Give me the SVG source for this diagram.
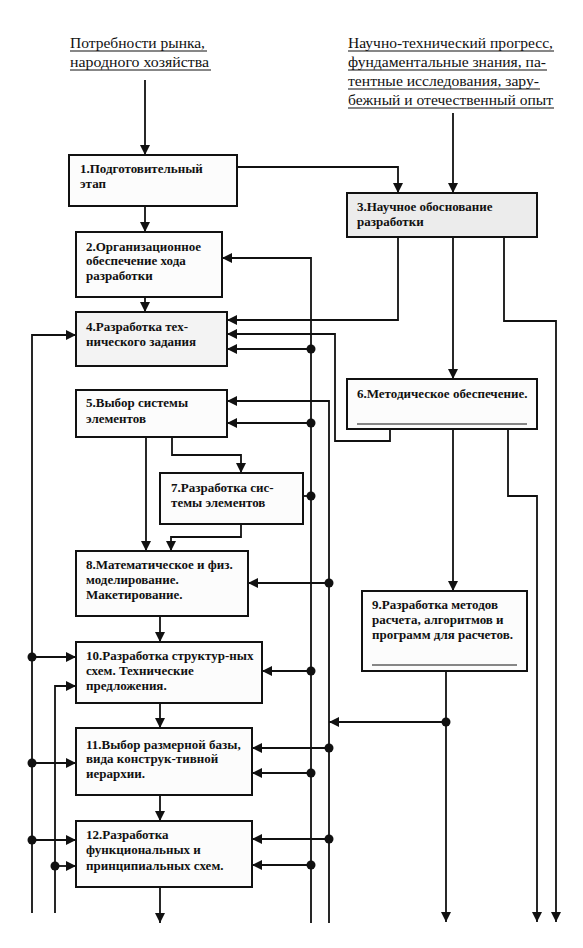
<svg xmlns="http://www.w3.org/2000/svg" width="583" height="948" viewBox="0 0 583 948">
<defs>
<style>
.bg{fill:#ffffff}
.box{fill:#fcfcfc;stroke:#111;stroke-width:2}
.box.g3{fill:#ececec}
.box.g4{fill:#f3f3f3}
.t{font-family:"Liberation Serif","DejaVu Serif",serif;font-size:13px;font-weight:bold;fill:#111}
.top{font-family:"Liberation Serif","DejaVu Serif",serif;font-size:15px;fill:#111}
.ul{stroke:#111;stroke-width:1.2}
.c{fill:none;stroke:#111;stroke-width:1.8}
.a{marker-end:url(#arr)}
.dot{fill:#111}
</style>
<marker id="arr" markerUnits="userSpaceOnUse" markerWidth="11" markerHeight="10" refX="10" refY="5" orient="auto">
<path d="M0,0 L10,5 L0,10 z" fill="#111"/>
</marker>
</defs>
<rect class="bg" x="0" y="0" width="583" height="948"/>

<g id="inputs">
<text class="top" font-family="Liberation Serif, serif" x="70" y="48" textLength="135" lengthAdjust="spacingAndGlyphs">Потребности рынка,</text>
<text class="top" font-family="Liberation Serif, serif" x="70" y="67" textLength="139" lengthAdjust="spacingAndGlyphs">народного хозяйства</text>
<line class="ul" x1="70" y1="51" x2="207" y2="51"/>
<line class="ul" x1="70" y1="70" x2="211" y2="70"/>
<text class="top" x="348" y="48" textLength="205" lengthAdjust="spacingAndGlyphs">Научно-технический прогресс,</text>
<text class="top" x="348" y="67" textLength="198" lengthAdjust="spacingAndGlyphs">фундаментальные знания, па-</text>
<text class="top" x="348" y="86" textLength="191" lengthAdjust="spacingAndGlyphs">тентные исследования, зару-</text>
<text class="top" x="348" y="105" textLength="205" lengthAdjust="spacingAndGlyphs">бежный и отечественный опыт</text>
<line class="ul" x1="348" y1="51" x2="554" y2="51"/>
<line class="ul" x1="348" y1="70" x2="547" y2="70"/>
<line class="ul" x1="348" y1="89" x2="540" y2="89"/>
<line class="ul" x1="348" y1="108" x2="554" y2="108"/>
</g>

<g id="connectors">
<path class="c a" d="M145,80 L145,155"/>
<path class="c a" d="M453,113 L453,193"/>
<path class="c a" d="M237,167 L398,167 L398,193"/>
<path class="c a" d="M145,206 L145,232"/>
<path class="c a" d="M145,297 L145,312"/>
<path class="c a" d="M398,237 L398,320 L227,320"/>
<path class="c a" d="M453,237 L453,379"/>
<path class="c a" d="M504,237 L504,321 L556,321 L556,922"/>
<path class="c a" d="M311,923 L311,258 L222,258"/>
<path class="c a" d="M390,429 L390,441 L335,441 L335,334 L227,334"/>
<path class="c a" d="M311,349 L227,349"/>
<path class="c a" d="M329,923 L329,401 L227,401"/>
<path class="c a" d="M311,423 L227,423"/>
<path class="c a" d="M146,437 L146,551"/>
<path class="c a" d="M172,437 L172,455 L241,455 L241,473"/>
<path class="c a" d="M241,524 L241,537 L171,537 L171,551"/>
<path class="c" d="M303,496 L311,496"/>
<path class="c a" d="M453,429 L453,591"/>
<path class="c a" d="M508,429 L508,496 L537,496 L537,922"/>
<path class="c a" d="M329,583 L248,583"/>
<path class="c a" d="M160,616 L160,642"/>
<path class="c a" d="M311,671 L262,671"/>
<path class="c a" d="M446,671 L446,922"/>
<path class="c a" d="M446,722 L329,722"/>
<path class="c a" d="M160,703 L160,728"/>
<path class="c a" d="M329,748 L252,748"/>
<path class="c a" d="M311,773 L252,773"/>
<path class="c a" d="M160,795 L160,821"/>
<path class="c a" d="M329,839 L252,839"/>
<path class="c a" d="M311,865 L252,865"/>
<path class="c a" d="M160,887 L160,923"/>
<path class="c a" d="M32,913 L32,335 L76,335"/>
<path class="c a" d="M32,657 L76,657"/>
<path class="c a" d="M32,763 L76,763"/>
<path class="c a" d="M32,840 L76,840"/>
<path class="c a" d="M55,913 L55,686 L76,686"/>
<path class="c a" d="M55,866 L76,866"/>
<circle class="dot" cx="311" cy="349" r="4.5"/>
<circle class="dot" cx="311" cy="423" r="4.5"/>
<circle class="dot" cx="311" cy="496" r="4.5"/>
<circle class="dot" cx="329" cy="583" r="4.5"/>
<circle class="dot" cx="311" cy="671" r="4.5"/>
<circle class="dot" cx="446" cy="722" r="4.5"/>
<circle class="dot" cx="329" cy="748" r="4.5"/>
<circle class="dot" cx="311" cy="773" r="4.5"/>
<circle class="dot" cx="329" cy="839" r="4.5"/>
<circle class="dot" cx="311" cy="865" r="4.5"/>
<circle class="dot" cx="32" cy="657" r="4.5"/>
<circle class="dot" cx="32" cy="763" r="4.5"/>
<circle class="dot" cx="32" cy="840" r="4.5"/>
<circle class="dot" cx="55" cy="866" r="4.5"/>
</g>

<g id="n1">
<rect class="box" x="69" y="155" width="168" height="51"/>
<text class="t" x="80" y="173">1.Подготовительный</text>
<text class="t" x="80" y="188">этап</text>
</g>
<g id="n2">
<rect class="box" x="76" y="232" width="146" height="65"/>
<text class="t" x="86" y="251">2.Организационное</text>
<text class="t" x="86" y="265">обеспечение хода</text>
<text class="t" x="86" y="280">разработки</text>
</g>
<g id="n3">
<rect class="box g3" x="347" y="193" width="190" height="44"/>
<text class="t" x="357" y="211">3.Научное обоснование</text>
<text class="t" x="357" y="226">разработки</text>
</g>
<g id="n4">
<rect class="box g4" x="76" y="312" width="151" height="54"/>
<text class="t" x="86" y="331">4.Разработка тех-</text>
<text class="t" x="86" y="346">нического задания</text>
</g>
<g id="n5">
<rect class="box" x="76" y="390" width="151" height="47"/>
<text class="t" x="86" y="407">5.Выбор системы</text>
<text class="t" x="86" y="423">элементов</text>
</g>
<g id="n6">
<rect class="box" x="347" y="379" width="190" height="50"/>
<text class="t" x="357" y="398">6.Методическое обеспечение.</text>
<line class="ul" x1="357" y1="424" x2="527" y2="424" stroke-width="1.6"/>
</g>
<g id="n7">
<rect class="box" x="160" y="473" width="143" height="51"/>
<text class="t" x="171" y="492">7.Разработка сис-</text>
<text class="t" x="171" y="507">темы элементов</text>
</g>
<g id="n8">
<rect class="box" x="76" y="551" width="172" height="65"/>
<text class="t" x="86" y="569">8.Математическое и физ.</text>
<text class="t" x="86" y="584">моделирование.</text>
<text class="t" x="86" y="599">Макетирование.</text>
</g>
<g id="n9">
<rect class="box" x="362" y="591" width="165" height="80"/>
<text class="t" x="372" y="609">9.Разработка методов</text>
<text class="t" x="372" y="624">расчета, алгоритмов и</text>
<text class="t" x="372" y="639">программ для расчетов.</text>
<line class="ul" x1="372" y1="665" x2="517" y2="665" stroke-width="1.6"/>
</g>
<g id="n10">
<rect class="box" x="76" y="642" width="186" height="61"/>
<text class="t" x="86" y="660">10.Разработка структур-ных</text>
<text class="t" x="86" y="675">схем. Технические</text>
<text class="t" x="86" y="690">предложения.</text>
</g>
<g id="n11">
<rect class="box" x="76" y="728" width="176" height="67"/>
<text class="t" x="86" y="749">11.Выбор размерной базы,</text>
<text class="t" x="86" y="763">вида конструк-тивной</text>
<text class="t" x="86" y="778">иерархии.</text>
</g>
<g id="n12">
<rect class="box" x="76" y="821" width="176" height="66"/>
<text class="t" x="86" y="839">12.Разработка</text>
<text class="t" x="86" y="854">функциональных и</text>
<text class="t" x="86" y="870">принципиальных схем.</text>
</g>
</svg>
